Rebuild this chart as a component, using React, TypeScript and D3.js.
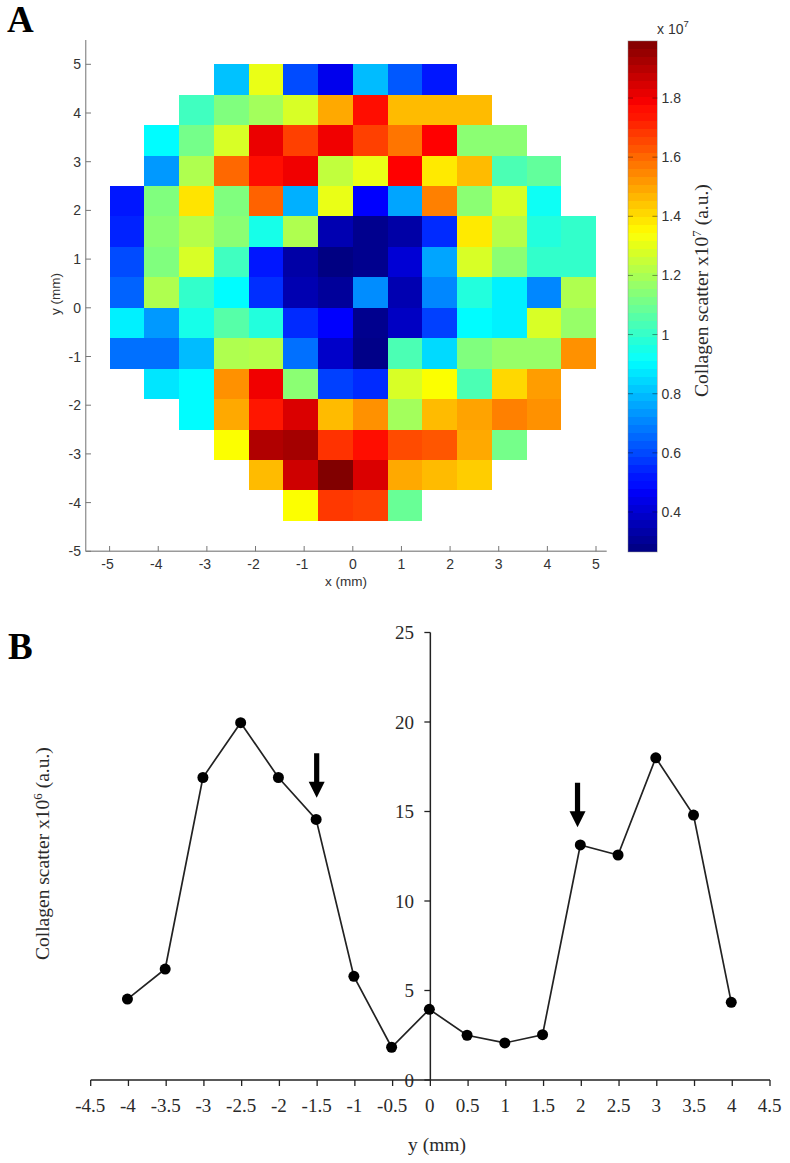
import React from "react";
import * as d3 from "d3";

const _ = null;
// Collagen scatter map, in units of 1e7 a.u. Top row is y = 5, columns run from x = -5.
const mapRows: (number | null)[][] = [
  [_, _, _, .81, 1.31, .61, .45, .80, .63, .52, _, _, _, _],
  [_, _, 1.02, 1.13, 1.19, 1.28, 1.49, 1.76, 1.46, 1.46, 1.46, _, _, _],
  [_, .91, 1.11, 1.28, 1.81, 1.67, 1.80, 1.67, 1.58, 1.77, 1.15, 1.15, _, _],
  [_, .74, 1.21, 1.60, 1.76, 1.80, 1.24, 1.31, 1.77, 1.38, 1.46, 1.04, 1.08, _],
  [.52, 1.13, 1.39, 1.13, 1.61, .78, 1.31, .48, .76, 1.56, 1.15, 1.28, .93, _],
  [.54, 1.15, 1.22, 1.15, .95, 1.21, .35, .29, .33, .55, 1.38, 1.22, .97, 1.0],
  [.61, 1.13, 1.28, 1.02, .52, .33, .27, .29, .41, .76, 1.28, 1.15, 1.0, 1.0],
  [.65, 1.21, 1.0, .91, .56, .35, .31, .72, .35, .71, .97, .89, .71, 1.21],
  [.89, .74, .95, 1.06, .97, .55, .48, .29, .38, .59, .91, .89, 1.28, 1.17],
  [.67, .67, .80, 1.21, 1.22, .67, .39, .28, 1.04, .85, 1.13, 1.17, 1.17, 1.53],
  [_, .87, .91, 1.53, 1.80, 1.15, .59, .55, 1.28, 1.34, 1.04, 1.41, 1.51, _],
  [_, _, .91, 1.49, 1.74, 1.84, 1.46, 1.53, 1.19, 1.46, 1.50, 1.56, 1.53, _],
  [_, _, _, 1.34, 1.91, 1.93, 1.69, 1.76, 1.65, 1.63, 1.49, 1.11, _, _],
  [_, _, _, _, 1.46, 1.86, 1.99, 1.84, 1.49, 1.46, 1.43, _, _, _],
  [_, _, _, _, _, 1.34, 1.68, 1.67, 1.09, _, _, _, _, _],
];
const mapTicks = [-5, -4, -3, -2, -1, 0, 1, 2, 3, 4, 5];
const colorbarTicks = [0.4, 0.6, 0.8, 1, 1.2, 1.4, 1.6, 1.8];
const colorMin = 0.265;
const colorMax = 1.993;
const jetStops = ["#00007f", "#0000ff", "#00ffff", "#7fff7f", "#ffff00", "#ff7f00", "#ff0000", "#7f0000"];
const jetPositions = [0, 1 / 8, 3 / 8, 1 / 2, 5 / 8, 6 / 8, 7 / 8, 1];

// Profile along y
const profileY = [-4, -3.5, -3, -2.5, -2, -1.5, -1, -0.5, 0, 0.5, 1, 1.5, 2, 2.5, 3, 3.5, 4];
const profileScatter = [4.52, 6.2, 16.9, 19.96, 16.9, 14.56, 5.79, 1.83, 3.95, 2.5, 2.07, 2.53, 13.13, 12.57, 18.0, 14.8, 4.34];
const profileXTicks = [-4.5, -4, -3.5, -3, -2.5, -2, -1.5, -1, -0.5, 0, 0.5, 1, 1.5, 2, 2.5, 3, 3.5, 4, 4.5];
const profileYTicks = [0, 5, 10, 15, 20, 25];
const arrowTipsY = [-1.506, 1.95];
const arrowTipsScatter = [15.77, 14.12];

const SANS = "'Liberation Sans', Arial, sans-serif";
const SERIF = "'Liberation Serif', 'Times New Roman', serif";

export default function App() {
  const xA = d3.scaleLinear().domain([-5, 5]).range([109.6, 596]);
  const yA = d3.scaleLinear().domain([-5, 5]).range([551.3, 64.3]);
  const colStep = 10 / 14;
  const rowStep = 10 / 16;
  const t = d3.scaleLinear().domain([colorMin, colorMax]).range([0, 1]);
  const jet = d3.scaleLinear<string>().domain(jetPositions).range(jetStops).clamp(true);
  const colour = (v: number) => jet(t(v));
  const yBar = d3.scaleLinear().domain([0.4, 1.8]).range([512, 98]);
  const bands = d3.range(64);
  const bandH = (colorMax - colorMin) / 64;

  const xB = d3.scaleLinear().domain([-4.5, 4.5]).range([90.7, 770]);
  const yB = d3.scaleLinear().domain([0, 25]).range([1080, 632.5]);
  const pts = profileY.map((y, i) => [y, profileScatter[i]] as [number, number]);
  const line = d3.line<[number, number]>().x((d) => xB(d[0]) - 1).y((d) => yB(d[1]));

  const axisA = "#9a9a9a";
  const textA = "#333";
  const textB = "#2a2a2a";

  return (
    <svg width={790} height={1163} style={{ position: "absolute", left: 0, top: 0, display: "block", background: "#fff" }}>
      <defs>
        <filter id="soft" x="-2%" y="-2%" width="104%" height="104%">
          <feGaussianBlur stdDeviation="0.45" />
        </filter>
      </defs>

      {/* Panel letters */}
      <text x={7} y={32} fontFamily={SERIF} fontWeight="bold" fontSize={37} fill="#000">A</text>
      <text x={8} y={659} fontFamily={SERIF} fontWeight="bold" fontSize={37} fill="#000">B</text>

      {/* Panel A: heat map */}
      <g filter="url(#soft)">
        {mapRows.map((row, r) =>
          row.map((v, c) =>
            v === null ? null : (
              <rect
                key={`${r}-${c}`}
                x={xA(-5 + c * colStep)}
                y={yA(5 - r * rowStep)}
                width={xA(-5 + (c + 1) * colStep) - xA(-5 + c * colStep)}
                height={yA(5 - (r + 1) * rowStep) - yA(5 - r * rowStep)}
                fill={colour(v)}
                shapeRendering="crispEdges"
              />
            )
          )
        )}
      </g>

      {/* Panel A: axes */}
      <line x1={85.7} x2={85.7} y1={40} y2={551.3} stroke={axisA} strokeWidth={1.4} />
      <line x1={85.7} x2={606.7} y1={551.3} y2={551.3} stroke={axisA} strokeWidth={1.4} />
      {mapTicks.map((v) => (
        <g key={`xa${v}`}>
          <line x1={xA(v)} x2={xA(v)} y1={551.3} y2={546} stroke="#777" strokeWidth={1} />
          <text x={xA(v) - (v < 0 ? 2 : 0)} y={568.5} textAnchor="middle" fontFamily={SANS} fontSize={14} fill={textA}>{v}</text>
        </g>
      ))}
      {mapTicks.map((v) => (
        <g key={`ya${v}`}>
          <line x1={85.7} x2={91} y1={yA(v)} y2={yA(v)} stroke="#777" strokeWidth={1} />
          <text x={81} y={yA(v) + 5} textAnchor="end" fontFamily={SANS} fontSize={14} fill={textA}>{v}</text>
        </g>
      ))}
      <text x={346} y={586} textAnchor="middle" fontFamily={SANS} fontSize={13.5} fill={textA}>x (mm)</text>
      <text transform="translate(59.5,294) rotate(-90)" textAnchor="middle" fontFamily={SANS} fontSize={13.5} fill={textA}>y (mm)</text>

      {/* Panel A: colour bar */}
      <g filter="url(#soft)">
        {bands.map((i) => {
          const v0 = colorMin + i * bandH;
          return (
            <rect
              key={`b${i}`}
              x={628}
              width={29.4}
              y={yBar(v0 + bandH)}
              height={yBar(v0) - yBar(v0 + bandH) + 0.5}
              fill={colour(v0 + bandH / 2)}
              shapeRendering="crispEdges"
            />
          );
        })}
      </g>
      <rect x={628} y={yBar(colorMax)} width={29.4} height={yBar(colorMin) - yBar(colorMax)} fill="none" stroke="#8a8a8a" strokeOpacity={0.6} strokeWidth={0.8} />
      {colorbarTicks.map((v) => (
        <g key={`cb${v}`}>
          <line x1={628} x2={633} y1={yBar(v)} y2={yBar(v)} stroke="#000" strokeOpacity={0.4} strokeWidth={1} />
          <line x1={652.4} x2={657.4} y1={yBar(v)} y2={yBar(v)} stroke="#000" strokeOpacity={0.4} strokeWidth={1} />
          <text x={661.5} y={yBar(v) + 5} fontFamily={SANS} fontSize={14} fill={textA}>{v}</text>
        </g>
      ))}
      <text x={657} y={34} fontFamily={SANS} fontSize={14} fill={textA}>
        x 10<tspan dy={-7} fontSize={9.5}>7</tspan>
      </text>
      <text transform="translate(708,397) rotate(-90)" fontFamily={SERIF} fontSize={19.5} fill={textB}>
        Collagen scatter x10<tspan dy={-7} fontSize={13}>7</tspan><tspan dy={7}> (a.u.)</tspan>
      </text>

      {/* Panel B: axes */}
      <line x1={xB(0)} x2={xB(0)} y1={yB(25)} y2={yB(0)} stroke="#222" strokeWidth={1.5} />
      <line x1={xB(-4.5)} x2={xB(4.5)} y1={yB(0)} y2={yB(0)} stroke="#222" strokeWidth={1.5} />
      {profileXTicks.map((v) => (
        <g key={`xb${v}`}>
          <line x1={xB(v)} x2={xB(v)} y1={yB(0)} y2={yB(0) + 6} stroke="#222" strokeWidth={1.3} />
          <text x={xB(v) - 0.5} y={1111.5} textAnchor="middle" fontFamily={SERIF} fontSize={19} fill={textB}>{v}</text>
        </g>
      ))}
      {profileYTicks.map((v) => (
        <g key={`yb${v}`}>
          <line x1={xB(0) - 6} x2={xB(0)} y1={yB(v)} y2={yB(v)} stroke="#222" strokeWidth={1.3} />
          <text x={414} y={yB(v) + 6.5} textAnchor="end" fontFamily={SERIF} fontSize={19} fill={textB}>{v}</text>
        </g>
      ))}
      <text x={437} y={1151} textAnchor="middle" fontFamily={SERIF} fontSize={19.5} fill={textB}>y (mm)</text>
      <text transform="translate(49,960) rotate(-90)" fontFamily={SERIF} fontSize={19.5} fill={textB}>
        Collagen scatter x10<tspan dy={-7} fontSize={13}>6</tspan><tspan dy={7}> (a.u.)</tspan>
      </text>

      {/* Panel B: profile */}
      <path d={line(pts) ?? ""} fill="none" stroke="#222" strokeWidth={1.7} />
      {pts.map((d) => (
        <circle key={`p${d[0]}`} cx={xB(d[0]) - 1} cy={yB(d[1])} r={5.5} fill="#000" />
      ))}

      {/* Panel B: arrows */}
      {arrowTipsY.map((y, i) => {
        const cx = xB(y);
        const tip = yB(arrowTipsScatter[i]);
        const path = d3.path();
        path.moveTo(cx, tip);
        path.lineTo(cx - 8, tip - 16);
        path.lineTo(cx - 2.6, tip - 16);
        path.lineTo(cx - 2.6, tip - 44.5);
        path.lineTo(cx + 2.6, tip - 44.5);
        path.lineTo(cx + 2.6, tip - 16);
        path.lineTo(cx + 8, tip - 16);
        path.closePath();
        return <path key={`a${i}`} d={path.toString()} fill="#000" />;
      })}
    </svg>
  );
}
